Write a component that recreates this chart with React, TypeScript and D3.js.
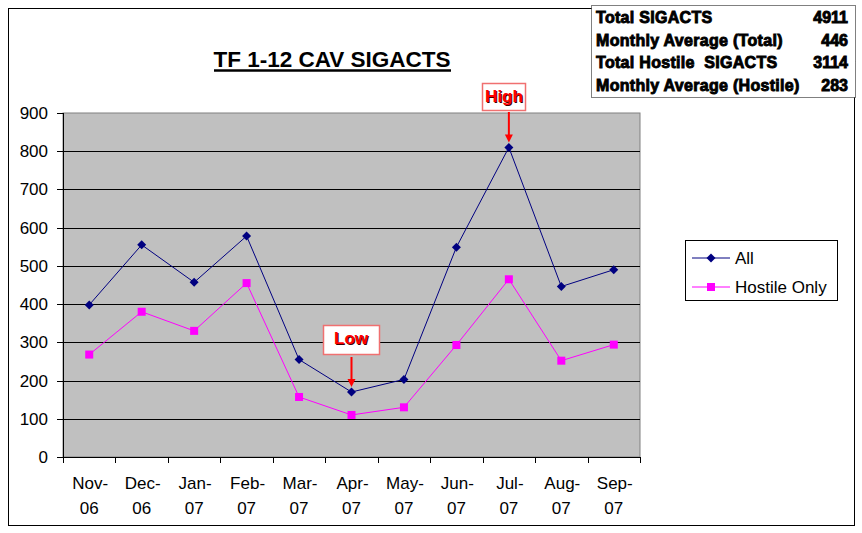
import * as d3 from "d3";
import * as React from "react";

const months = ["Nov-|06", "Dec-|06", "Jan-|07", "Feb-|07", "Mar-|07", "Apr-|07", "May-|07", "Jun-|07", "Jul-|07", "Aug-|07", "Sep-|07"];
const allValues = [398, 555, 457, 578, 255, 170, 203, 549, 810, 446, 490];
const hostileValues = [268, 380, 330, 455, 157, 110, 130, 293, 465, 252, 294];
const yTicks = [0, 100, 200, 300, 400, 500, 600, 700, 800, 900];
const statsRows = [
  ["Total SIGACTS", "4911"],
  ["Monthly Average (Total)", "446"],
  ["Total Hostile  SIGACTS", "3114"],
  ["Monthly Average (Hostile)", "283"],
];

const font = "Arial, 'Liberation Sans', sans-serif";

export default function App() {
  const width = 862;
  const height = 533;
  const plotLeft = 63;
  const plotRight = 640;
  const plotTop = 113;
  const plotBottom = 457;

  const xBand = d3.scaleBand(months, [plotLeft, plotRight]);
  const x = (i: number) => (xBand(months[i]) ?? 0) + xBand.bandwidth() / 2;
  const y = d3.scaleLinear([0, 900], [plotBottom, plotTop]);

  const line = d3
    .line<number>()
    .x((_, i) => x(i))
    .y((d) => y(d));

  const diamond = (cx: number, cy: number, r: number) =>
    `M${cx},${cy - r}L${cx + r},${cy}L${cx},${cy + r}L${cx - r},${cy}Z`;

  const hi = allValues.indexOf(d3.max(allValues) ?? 0);
  const lo = allValues.indexOf(d3.min(allValues) ?? 0);

  return (
    <svg width={width} height={height} style={{ position: "absolute", left: 0, top: 0 }} fontFamily={font}>
      <rect x={0} y={0} width={width} height={height} fill="#fff" />
      {/* chart border */}
      <rect x={8.5} y={8.5} width={846} height={517} fill="none" stroke="#000" />

      {/* title */}
      <text x={332} y={67} textAnchor="middle" fontSize={22.5} fontWeight="bold">
        TF 1-12 CAV SIGACTS
      </text>
      <line x1={214} x2={451} y1={70.5} y2={70.5} stroke="#000" strokeWidth={2.5} />

      {/* plot area */}
      <rect x={plotLeft} y={plotTop} width={plotRight - plotLeft} height={plotBottom - plotTop} fill="#c0c0c0" stroke="#808080" />
      {yTicks.slice(1, -1).map((t) => (
        <line key={t} x1={plotLeft} x2={plotRight} y1={Math.round(y(t)) + 0.5} y2={Math.round(y(t)) + 0.5} stroke="#000" />
      ))}
      {/* y axis */}
      <line x1={plotLeft + 0.5} x2={plotLeft + 0.5} y1={plotTop} y2={plotBottom} stroke="#000" />
      {yTicks.map((t) => (
        <g key={t}>
          <line x1={plotLeft - 6} x2={plotLeft} y1={Math.round(y(t)) + 0.5} y2={Math.round(y(t)) + 0.5} stroke="#000" />
          <text x={48} y={y(t) + 6} textAnchor="end" fontSize={17}>
            {t}
          </text>
        </g>
      ))}
      {/* x axis */}
      <line x1={plotLeft} x2={plotRight} y1={plotBottom + 0.5} y2={plotBottom + 0.5} stroke="#000" />
      {months.map((m, i) => {
        const [a, b] = m.split("|");
        const x0 = Math.round(xBand(m) ?? 0) + 0.5;
        return (
          <g key={m}>
            <line x1={x0} x2={x0} y1={plotBottom} y2={plotBottom + 6} stroke="#000" />
            <text x={x(i) + 1} y={489} textAnchor="middle" fontSize={17}>
              {a}
            </text>
            <text x={x(i)} y={514} textAnchor="middle" fontSize={17}>
              {b}
            </text>
          </g>
        );
      })}
      <line x1={Math.round(plotRight) + 0.5} x2={Math.round(plotRight) + 0.5} y1={plotBottom} y2={plotBottom + 6} stroke="#000" />

      {/* series */}
      <path d={line(hostileValues) ?? ""} fill="none" stroke="#ff00ff" strokeWidth={1} />
      {hostileValues.map((v, i) => (
        <rect key={i} x={x(i) - 4} y={y(v) - 4} width={8} height={8} fill="#ff00ff" />
      ))}
      <path d={line(allValues) ?? ""} fill="none" stroke="#000080" strokeWidth={1} />
      {allValues.map((v, i) => (
        <path key={i} d={diamond(x(i), y(v), 4.5)} fill="#000080" />
      ))}

      {/* High / Low callouts */}
      <rect x={482.5} y={83.5} width={43} height={27} fill="#fff" stroke="#f07070" strokeWidth={1.5} />
      <text x={505} y={103} textAnchor="middle" fontSize={17} fontWeight="bold" fill="#400000">High</text>
      <text x={504} y={102} textAnchor="middle" fontSize={17} fontWeight="bold" fill="#ff0000">High</text>
      <line x1={x(hi)} x2={x(hi)} y1={112} y2={y(allValues[hi]) - 12} stroke="#ff0000" strokeWidth={2} />
      <path d={`M${x(hi) - 4},${y(allValues[hi]) - 13}L${x(hi) + 4},${y(allValues[hi]) - 13}L${x(hi)},${y(allValues[hi]) - 5}Z`} fill="#ff0000" />

      <rect x={323.5} y={325.5} width={56} height={29} fill="#fff" stroke="#f07070" strokeWidth={1.5} />
      <text x={352} y={345} textAnchor="middle" fontSize={17} fontWeight="bold" fill="#400000">Low</text>
      <text x={351} y={344} textAnchor="middle" fontSize={17} fontWeight="bold" fill="#ff0000">Low</text>
      <line x1={x(lo)} x2={x(lo)} y1={357} y2={y(allValues[lo]) - 12} stroke="#ff0000" strokeWidth={2} />
      <path d={`M${x(lo) - 4},${y(allValues[lo]) - 13}L${x(lo) + 4},${y(allValues[lo]) - 13}L${x(lo)},${y(allValues[lo]) - 5}Z`} fill="#ff0000" />

      {/* legend */}
      <rect x={685.5} y={240.5} width={152} height={60} fill="#fff" stroke="#000" />
      <line x1={692} x2={730} y1={258} y2={258} stroke="#000080" />
      <path d={diamond(711, 258, 4.5)} fill="#000080" />
      <text x={735} y={264} fontSize={17}>All</text>
      <line x1={692} x2={730} y1={287} y2={287} stroke="#ff00ff" />
      <rect x={707} y={283} width={8} height={8} fill="#ff00ff" />
      <text x={735} y={293} fontSize={17}>Hostile Only</text>

      {/* stats box */}
      <rect x={591.5} y={5.5} width={264} height={92} fill="#fff" stroke="#000" strokeDasharray="1,1" />
      {statsRows.map(([label, value], i) => (
        <g key={label} fontSize={16} fontWeight="bold" stroke="#000" strokeWidth={0.9}>
          <text x={596} y={23 + i * 22.7} style={{ whiteSpace: "pre" }} letterSpacing={0.3}>{label}</text>
          <text x={848} y={23 + i * 22.7} textAnchor="end">{value}</text>
        </g>
      ))}
    </svg>
  );
}
